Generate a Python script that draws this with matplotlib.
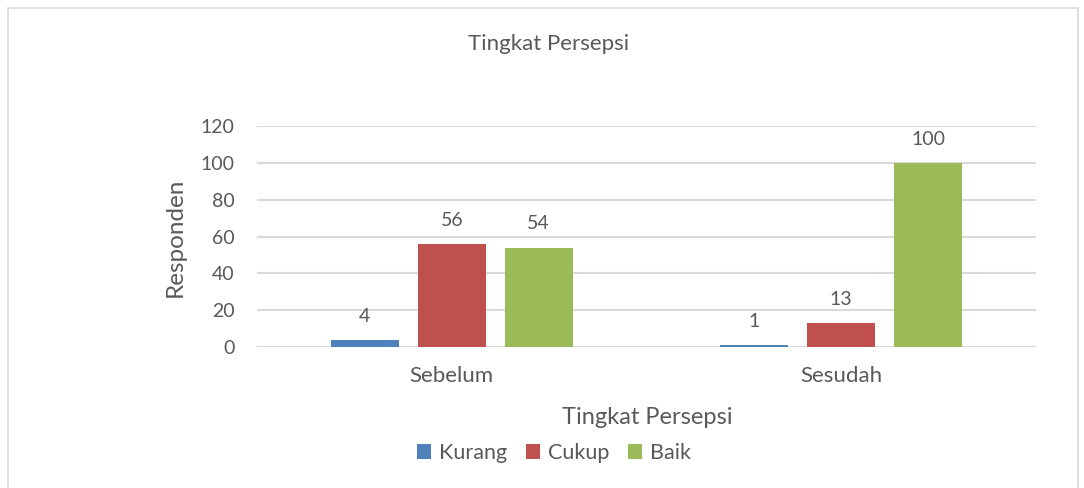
import numpy as np
import matplotlib
matplotlib.use("Agg")
import matplotlib.pyplot as plt
from matplotlib.patches import Rectangle

# data
groups = ["Sebelum", "Sesudah"]
series = ["Kurang", "Cukup", "Baik"]
kurang = [4, 1]
cukup = [56, 13]
baik = [54, 100]
colors = ["#4F81BD", "#C0504D", "#9BBB59"]

plt.rcParams['font.family'] = ['Lato', 'DejaVu Sans']
txt = "#595959"

W, H = 1084, 488
fig = plt.figure(figsize=(W / 100, H / 100), dpi=100)

# chart border
fig.patches.append(Rectangle((8 / W, -0.01), (1078 - 8) / W, 1 - 8 / H + 0.01,
                             transform=fig.transFigure, fill=False,
                             edgecolor="#d9d9d9", linewidth=1.2))

left, right, top, bottom = 257, 1036, 126, 347
ax = fig.add_axes([left / W, 1 - bottom / H, (right - left) / W, (bottom - top) / H])

x = np.arange(len(groups))
width = 0.175
offset = 0.223
for i, (name, vals) in enumerate(zip(series, [kurang, cukup, baik])):
    bars = ax.bar(x + (i - 1) * offset, vals, width, color=colors[i], label=name, zorder=3)
    for b, v in zip(bars, vals):
        ax.annotate(str(v), (b.get_x() + b.get_width() / 2, v),
                    xytext=(0, 17), textcoords="offset points",
                    ha="center", va="center", fontsize=14, color=txt)

ax.set_xlim(-0.5, 1.5)
ax.set_ylim(0, 120)
ax.set_yticks(range(0, 121, 20))
ax.set_xticks(x)
ax.set_xticklabels(groups)
ax.yaxis.grid(True, color="#d9d9d9", linewidth=1.5, zorder=0)
ax.tick_params(axis="y", length=0, pad=16, labelsize=14, labelcolor=txt)
ax.tick_params(axis="x", length=0, pad=14, labelsize=16, labelcolor=txt)
for s in ax.spines.values():
    s.set_visible(False)
ax.axhline(0, color="#d9d9d9", linewidth=1.5, zorder=2)

fig.text(549 / W, 1 - 44 / H, "Tingkat Persepsi", ha="center", va="center",
         fontsize=16, color=txt)
fig.text(175 / W, 1 - 237 / H, "Responden", ha="center", va="center",
         rotation=90, fontsize=17.5, color=txt)
fig.text(647 / W, 1 - 418 / H, "Tingkat Persepsi", ha="center", va="center",
         fontsize=17, color=txt)

fig.legend(loc="center", bbox_to_anchor=(554 / W, 1 - 453 / H), ncol=3,
           frameon=False, fontsize=15.5, handlelength=0.65, handleheight=0.65,
           handletextpad=0.4, columnspacing=0.85, labelcolor=txt)

fig.savefig("out.png", dpi=100)
